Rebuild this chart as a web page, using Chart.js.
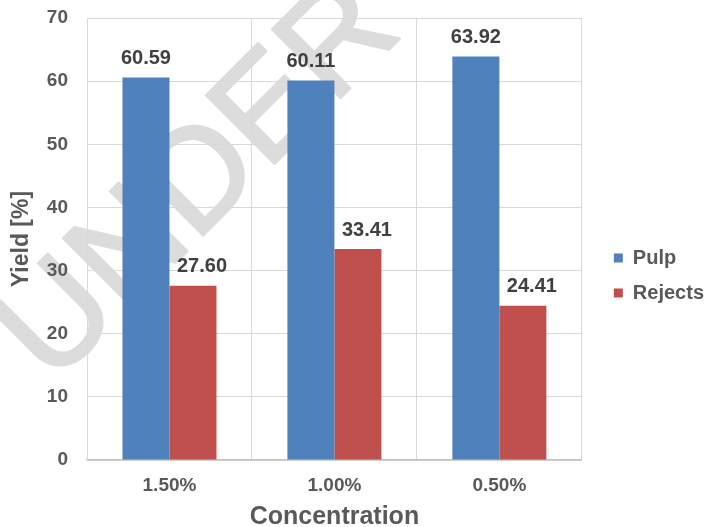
<!DOCTYPE html>
<html lang="en">
<head>
    <meta charset="UTF-8">
    <title>Yield by Concentration</title>
    <script src="https://cdn.jsdelivr.net/npm/chart.js"></script>
    <style>
        body { margin: 0; background: #fff; }
        #wrap { width: 704px; height: 527px; }
    </style>
</head>
<body>
    <div id="wrap"><canvas id="yieldChart"></canvas></div>
    <script>
        const concentrations = ['1.50%', '1.00%', '0.50%'];
        const pulpYield = [60.59, 60.11, 63.92];
        const rejectsYield = [27.60, 33.41, 24.41];

        const font = 'Liberation Sans, Arial, sans-serif';

        // value labels above each bar
        const barLabels = {
            id: 'barLabels',
            afterDatasetsDraw(chart) {
                const ctx = chart.ctx;
                ctx.save();
                ctx.font = 'bold 20px ' + font;
                ctx.fillStyle = '#404040';
                ctx.textAlign = 'center';
                ctx.textBaseline = 'middle';
                chart.data.datasets.forEach((ds, i) => {
                    const shift = i === 1 ? 9 : 0;
                    chart.getDatasetMeta(i).data.forEach((bar, j) => {
                        ctx.fillText(ds.data[j].toFixed(2), bar.x + shift, bar.y - 19);
                    });
                });
                ctx.restore();
            }
        };

        // faint "under review" stamp behind the bars
        const stamp = {
            id: 'stamp',
            beforeDatasetsDraw(chart) {
                const ctx = chart.ctx;
                ctx.save();
                ctx.globalCompositeOperation = 'darken';
                ctx.translate(52, 386);
                ctx.rotate(-45 * Math.PI / 180);
                ctx.font = '140px ' + font;
                ctx.fillStyle = '#dcdcdc';
                ctx.strokeStyle = '#dcdcdc';
                ctx.lineWidth = 3;
                ctx.lineJoin = 'round';
                ctx.fillText('UNDER REVIEW', 0, 0);
                ctx.strokeText('UNDER REVIEW', 0, 0);
                ctx.restore();
            }
        };

        // legend sits a little away from the plot, like the original
        const legendGap = {
            id: 'legendGap',
            afterLayout(chart) {
                const lg = chart.legend;
                lg.left = chart.chartArea.right + 17;
                lg.right = lg.left + lg.width;
                lg.top = 21;
                lg.bottom = lg.top + lg.height;
            }
        };

        new Chart(document.getElementById('yieldChart'), {
            type: 'bar',
            data: {
                labels: concentrations,
                datasets: [
                    { label: 'Pulp', data: pulpYield, backgroundColor: '#4F81BD' },
                    { label: 'Rejects', data: rejectsYield, backgroundColor: '#C0504D' }
                ]
            },
            options: {
                responsive: true,
                maintainAspectRatio: false,
                animation: false,
                layout: { padding: { top: 18, right: 7, bottom: 0, left: 0 } },
                datasets: {
                    bar: { categoryPercentage: 0.57, barPercentage: 1.0 }
                },
                plugins: {
                    tooltip: { enabled: false },
                    legend: {
                        position: 'right',
                        labels: {
                            boxWidth: 9,
                            boxHeight: 9,
                            padding: 15,
                            color: '#595959',
                            font: { family: font, size: 20, weight: 'bold' }
                        }
                    }
                },
                scales: {
                    x: {
                        grid: { color: '#d9d9d9', tickLength: 0 },
                        border: { color: '#c4c4c4', width: 1.5 },
                        ticks: {
                            color: '#595959',
                            padding: 14,
                            font: { family: font, size: 19, weight: 'bold' }
                        },
                        title: {
                            display: true,
                            text: 'Concentration',
                            color: '#595959',
                            padding: { top: 0, bottom: -5 },
                            font: { family: font, size: 25, weight: 'bold' }
                        },
                        afterFit(scale) {
                            scale.height = 67;
                        }
                    },
                    y: {
                        min: 0,
                        max: 70,
                        grid: { color: '#d9d9d9', tickLength: 0 },
                        border: { color: '#d9d9d9' },
                        ticks: {
                            stepSize: 10,
                            color: '#595959',
                            padding: 19,
                            font: { family: font, size: 19, weight: 'bold' }
                        },
                        title: {
                            display: true,
                            text: 'Yield [%]',
                            color: '#595959',
                            padding: { top: 8, bottom: 0 },
                            font: { family: font, size: 23, weight: 'bold' }
                        },
                        afterFit(scale) {
                            scale.width = 87;
                            scale.paddingTop = 0;
                            scale.paddingBottom = 0;
                        }
                    }
                }
            },
            plugins: [stamp, barLabels, legendGap]
        });
    </script>
</body>
</html>
